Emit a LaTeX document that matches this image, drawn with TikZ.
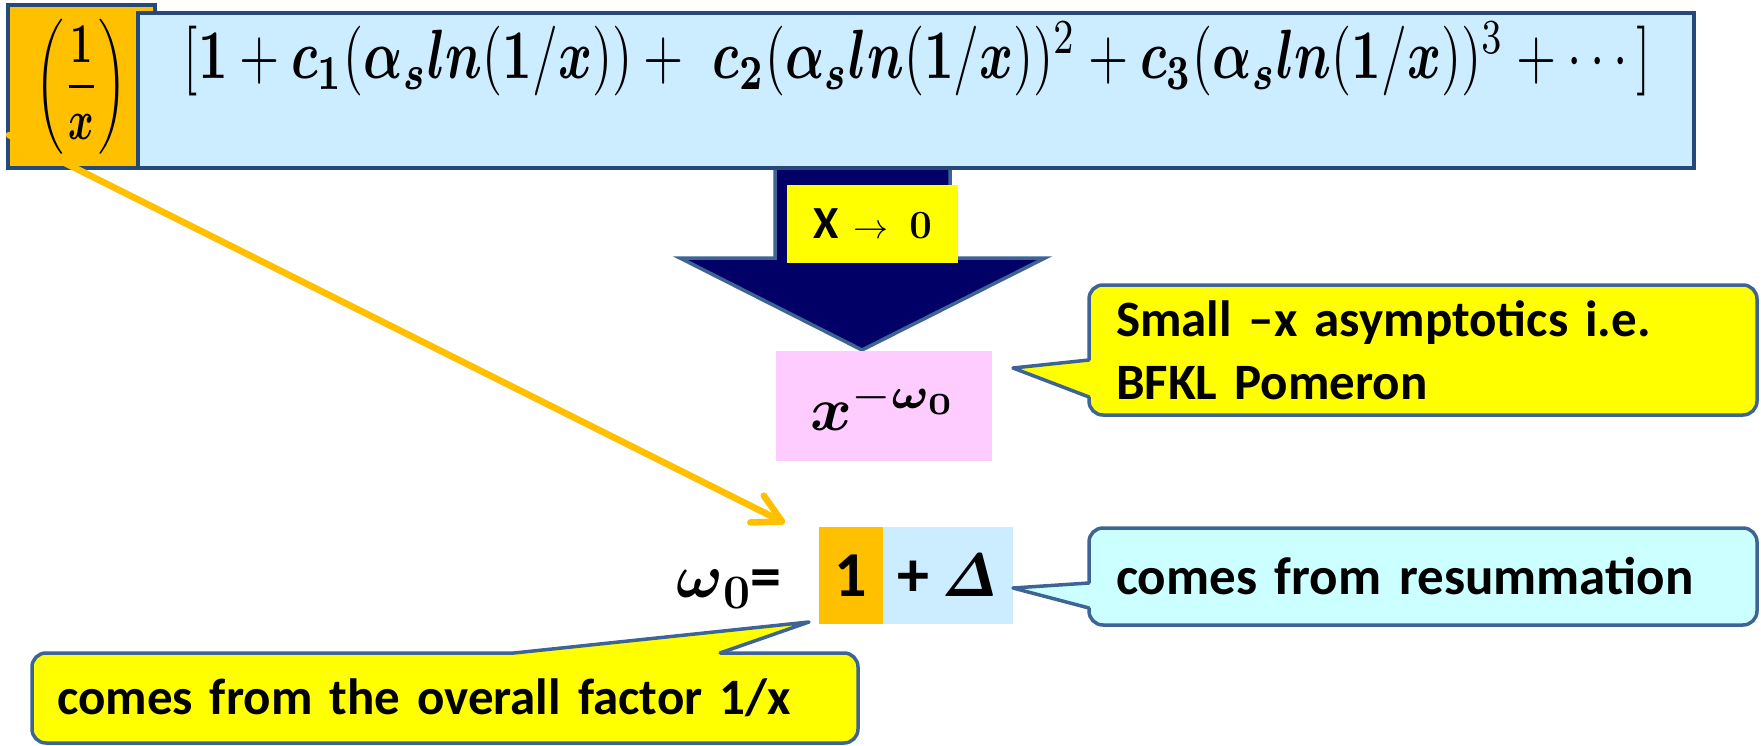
\RequirePackage{fix-cm}
\documentclass[tikz,border=0pt]{standalone}
\usepackage{amsmath}
\usepackage{bm}
\usepackage{graphicx}
\usepackage[no-math]{fontspec}
\newfontfamily\calib{Carlito}
\usetikzlibrary{calc,arrows.meta}
\definecolor{seriesblue}{HTML}{CCECFF}
\definecolor{edgeblue}{HTML}{24497A}
\definecolor{gold}{HTML}{FFC000}
\definecolor{navyfill}{HTML}{000066}
\definecolor{steel}{HTML}{3D6494}
\definecolor{pinkfill}{HTML}{FFCCFF}
\definecolor{cyanfill}{HTML}{CCFFFF}
\definecolor{lemon}{HTML}{FFFF00}
\begin{document}
\begin{tikzpicture}[x=1pt,y=-1pt,
  plain/.style={inner sep=0pt, outer sep=0pt},
  mainbox/.style={plain, draw=edgeblue, line width=3.5pt},
  bubble/.style={plain, draw=steel, line width=3.5pt, rounded corners=14pt, align=left,
    inner xsep=27pt},
  tailline/.style={draw=steel, line width=3.5pt, line join=round, line cap=round},
  goldarrow/.style={draw=gold, line width=6.5pt, line cap=round,
    -{Straight Barb[length=28pt, width=30pt, round]}},
]
\useasboundingbox (0,0) rectangle (1761,746);

% big down arrow (behind the series box)
\path[fill=navyfill, draw=steel, line width=3.5pt, line join=miter]
  (775,150) -- (950,150) -- (950,258) -- (1045,258) -- (862,350) -- (680,258) -- (775,258) -- cycle;

% 1/x factor
\node[mainbox, fill=gold, minimum width=147pt, minimum height=163pt] (recip) at (81.5,86.5)
  {\resizebox*{92pt}{135pt}{$\displaystyle\left(\frac{\mathbf{1}}{\bm{x}}\right)$}};

% series box
\node[mainbox, fill=seriesblue, minimum width=1556pt, minimum height=155pt] (series) at (916,90.5) {};
\node[plain] (formula) at (917.5,59)
  {\scalebox{1}[1.35]{\resizebox{1467pt}{!}{$[\mathbf{1}+\bm{c}_{\mathbf{1}}(\bm{\alpha}_{\bm{s}}\bm{ln}(\mathbf{1}/\bm{x}))+\ \bm{c}_{\mathbf{2}}(\bm{\alpha}_{\bm{s}}\bm{ln}(\mathbf{1}/\bm{x}))^2+\bm{c}_{\mathbf{3}}(\bm{\alpha}_{\bm{s}}\bm{ln}(\mathbf{1}/\bm{x}))^3+\cdots]$}}};

% limit label
\node[plain, fill=lemon, minimum width=171pt, minimum height=78pt] (xlim) at (872.5,224)
  {{\calib\bfseries\fontsize{46}{46}\selectfont X}\hspace{15pt}{\fontsize{35}{35}\selectfont$\rightarrow$}\hspace{21pt}{\fontsize{40}{40}\selectfont$\mathbf{0}$}\hspace{12pt}};

% power
\node[plain, fill=pinkfill, minimum width=216pt, minimum height=110pt] (power) at (884,406)
  {\resizebox{148pt}{49pt}{$\bm{x}^{-\bm{\omega}_{\mathbf{0}}}$}};

% omega_0 = 1 + Delta
\node[plain, anchor=base east] (omega) at (781,597)
  {\fontsize{62}{62}\selectfont$\bm{\omega}$\raisebox{-11pt}{\fontsize{48}{48}\selectfont$\mathbf{0}$}{\calib\bfseries =}};
\node[plain, fill=gold, minimum width=64pt, minimum height=97pt,
  font=\calib\bfseries\fontsize{64}{64}\selectfont] (one) at (851,575.5) {1};
\node[plain, fill=seriesblue, minimum width=130pt, minimum height=97pt,
  font=\calib\bfseries\fontsize{64}{64}\selectfont] (delta) at (948,575.5)
  {+\,\resizebox{!}{42pt}{$\bm{\mathit{\Delta}}$}};

% yellow arrow from the 1/x factor to the 1
\coordinate (gstart) at ($(recip.west)+(1,48.5)$);
\coordinate (gtip) at ($(one.north west)+(-34,-4)$);
\draw[goldarrow] (gstart) -- (gtip);

% callout: BFKL
\node[bubble, fill=lemon, text width=614pt, minimum height=130pt,
  font=\calib\bfseries\fontsize{51}{63}\selectfont] (bfkl) at (1423,350)
  {Small –x asymptotics i.e.\\BFKL Pomeron};
\coordinate (bt) at (1013,368);
\coordinate (b1) at ($(bfkl.west)+(0,10)$);
\coordinate (b2) at ($(bfkl.west)+(0,47)$);
\fill[lemon] (bt) -- (b1) -- ($(b1)+(6,0)$) -- ($(b2)+(6,0)$) -- (b2) -- cycle;
\draw[tailline] (b1) -- (bt) -- (b2);

% callout: resummation
\node[bubble, fill=cyanfill, text width=614pt, minimum height=97pt,
  font=\calib\bfseries\fontsize{53}{63}\selectfont] (resum) at (1423,576.5)
  {comes from resummation};
\coordinate (rt) at (1013,588);
\coordinate (r1) at ($(resum.west)+(0,6.5)$);
\coordinate (r2) at ($(resum.west)+(0,31.5)$);
\fill[cyanfill] (rt) -- (r1) -- ($(r1)+(6,0)$) -- ($(r2)+(6,0)$) -- (r2) -- cycle;
\draw[tailline] (r1) -- (rt) -- (r2);

% callout: overall factor
\node[bubble, fill=lemon, text width=776pt, inner xsep=25pt, minimum height=90pt,
  font=\calib\bfseries\fontsize{51}{63}\selectfont] (overall) at (445,698)
  {comes from the overall factor 1/x};
\coordinate (ot) at (809,622);
\coordinate (o1) at ($(overall.north west)+(482,0)$);
\coordinate (o2) at ($(overall.north west)+(688,0)$);
\fill[lemon] (ot) -- (o1) -- ($(o1)+(0,6)$) -- ($(o2)+(0,6)$) -- (o2) -- cycle;
\draw[tailline] (o1) -- (ot) -- (o2);
\end{tikzpicture}
\end{document}
